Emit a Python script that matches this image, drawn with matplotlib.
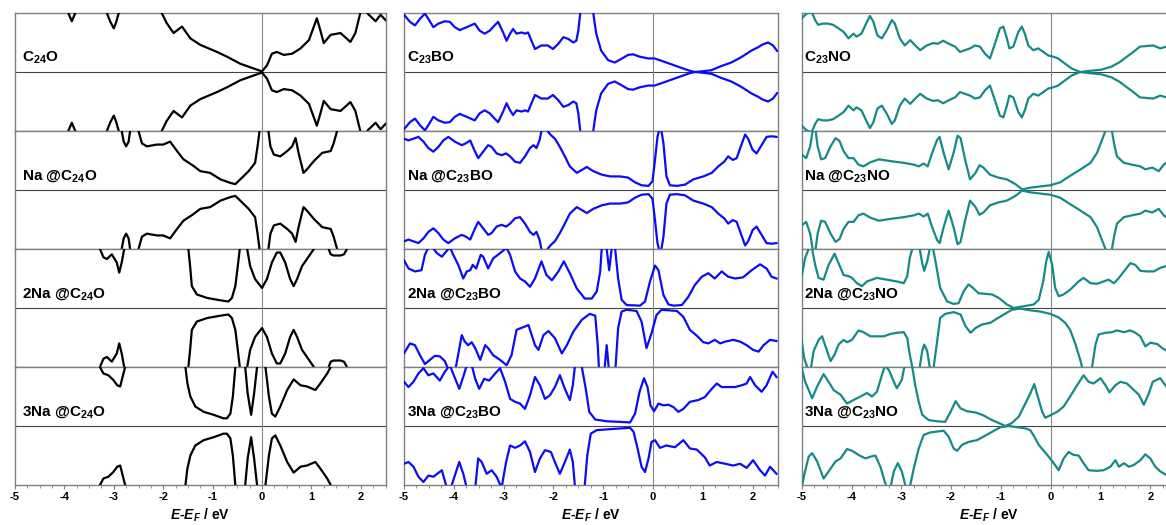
import matplotlib
matplotlib.use('Agg')
import matplotlib.pyplot as plt

# Spin-resolved DOS (units: fraction of panel half-height)
# Panels where both spin channels look the same use one list for both.

# ---------- column 1 : C24O ----------
e_c24o = [-5.0, -4.0, -3.92, -3.85, -3.78, -3.7, -3.4, -3.14, -3.07, -3.0, -2.95, -2.9,
          -2.5, -2.03, -1.93, -1.79, -1.62, -1.45, -1.25, -0.91, -0.71, -0.44, -0.17, 0.0,
          0.1, 0.2, 0.3, 0.44, 0.61, 0.78, 0.95, 1.05, 1.11, 1.18, 1.25, 1.39, 1.59, 1.79,
          1.89, 1.99, 2.05, 2.15, 2.3, 2.4, 2.5]
d_c24o = [1.5, 1.2, 1.0, 0.86, 1.0, 1.2, 1.5, 1.0, 0.85, 0.74, 0.85, 1.0,
          1.5, 1.0, 0.83, 0.66, 0.77, 0.57, 0.46, 0.34, 0.26, 0.14, 0.06, 0.01,
          0.11, 0.31, 0.34, 0.29, 0.31, 0.40, 0.54, 0.77, 0.91, 0.71, 0.49, 0.63, 0.66, 0.51,
          0.66, 1.0, 1.1, 0.98, 0.86, 0.97, 0.88]

e_na_c24o = [-5.0, -2.9, -2.84, -2.8, -2.75, -2.7, -2.67, -2.58, -2.5, -2.43, -2.33, -2.13,
             -2.0, -1.86, -1.72, -1.59, -1.39, -1.25, -1.05, -0.84, -0.64, -0.54, -0.44,
             -0.27, -0.14, -0.09, -0.05, 0.04, 0.13, 0.17, 0.24, 0.37, 0.51, 0.61, 0.68,
             0.74, 0.84, 0.91, 1.05, 1.22, 1.39, 1.45, 1.52, 1.6, 2.5]
d_na_c24o = [1.5, 1.2, 1.0, 0.82, 0.74, 0.82, 1.0, 1.3, 1.0, 0.79, 0.74, 0.77,
             0.77, 0.82, 0.66, 0.52, 0.41, 0.32, 0.29, 0.18, 0.12, 0.10, 0.18,
             0.32, 0.46, 0.74, 1.0, 1.5, 1.0, 0.74, 0.60, 0.57, 0.66, 0.74, 0.88,
             0.63, 0.29, 0.35, 0.49, 0.63, 0.66, 0.79, 1.0, 1.5, 1.5]

e_2na_c24o = [-5.0, -3.35, -3.28, -3.21, -3.14, -3.04, -2.94, -2.89, -2.84, -2.79, -2.7,
              -1.6, -1.49, -1.45, -1.42, -1.32, -1.11, -0.84, -0.68, -0.61, -0.54, -0.49,
              -0.45, -0.38, -0.3, -0.24, -0.14, 0.0, 0.1, 0.2, 0.3, 0.37, 0.47, 0.57, 0.64,
              0.71, 0.81, 0.91, 1.05, 1.2, 1.35, 1.39, 1.45, 1.59, 1.66, 1.72, 1.8, 2.5]
d_2na_c24o = [1.5, 1.2, 1.0, 0.86, 0.83, 0.91, 0.77, 0.60, 0.77, 1.0, 1.4,
              1.4, 1.0, 0.66, 0.37, 0.23, 0.17, 0.13, 0.11, 0.17, 0.37, 0.71,
              1.0, 1.3, 1.0, 0.71, 0.49, 0.34, 0.49, 0.77, 0.94, 0.94, 0.77, 0.49, 0.37,
              0.49, 0.71, 0.83, 1.0, 1.4, 1.0, 0.91, 0.89, 0.89, 0.91, 1.0, 1.4, 1.5]

e_3na_c24o = [-5.0, -3.35, -3.28, -3.21, -3.11, -3.01, -2.93, -2.87, -2.82, -2.77, -2.7,
              -1.65, -1.55, -1.51, -1.45, -1.35, -1.18, -0.98, -0.78, -0.71, -0.64, -0.59,
              -0.54, -0.45, -0.34, -0.29, -0.22, -0.16, -0.1, -0.02, 0.07, 0.14, 0.2, 0.27,
              0.37, 0.51, 0.64, 0.78, 0.91, 1.08, 1.18, 1.32, 1.39, 1.5, 2.5]
d_3na_c24o = [1.5, 1.2, 1.0, 0.89, 0.86, 0.78, 0.69, 0.67, 0.84, 1.0, 1.4,
              1.4, 1.0, 0.72, 0.50, 0.33, 0.24, 0.19, 0.13, 0.13, 0.21, 0.50,
              1.0, 1.4, 1.0, 0.55, 0.19, 0.55, 1.0, 1.4, 1.0, 0.50, 0.21, 0.16,
              0.33, 0.61, 0.79, 0.69, 0.67, 0.61, 0.72, 0.89, 1.0, 1.4, 1.5]

# ---------- column 2 : C23BO ----------
e_c23bo = [-5.0, -4.88, -4.78, -4.68, -4.58, -4.51, -4.41, -4.31, -4.18, -4.08, -3.98, -3.88,
           -3.74, -3.58, -3.48, -3.38, -3.28, -3.18, -3.11, -3.01, -2.94, -2.87, -2.81, -2.74,
           -2.64, -2.57, -2.51, -2.37, -2.24, -2.11, -2.01, -1.91, -1.8, -1.7, -1.6, -1.54,
           -1.5, -1.46, -1.33, -1.2, -1.14, -1.04, -0.9, -0.77, -0.64, -0.5, -0.4, -0.27,
           -0.1, 0.03, 0.17, 0.37, 0.57, 0.74, 0.84, 0.97, 1.17, 1.37, 1.57, 1.77, 1.97,
           2.11, 2.21, 2.31, 2.41, 2.49]
d_c23bo = [0.97, 0.85, 0.79, 0.90, 0.99, 0.90, 0.76, 0.82, 0.86, 0.85, 0.76, 0.71,
           0.76, 0.82, 0.70, 0.65, 0.70, 0.79, 0.85, 0.67, 0.53, 0.65, 0.73, 0.65,
           0.67, 0.65, 0.67, 0.39, 0.45, 0.45, 0.39, 0.47, 0.59, 0.56, 0.50, 0.53,
           0.70, 1.0, 1.6, 1.0, 0.65, 0.36, 0.20, 0.16, 0.22, 0.29, 0.30, 0.26,
           0.23, 0.23, 0.19, 0.13, 0.07, 0.02, 0.0, 0.01, 0.03, 0.10, 0.16, 0.25, 0.36,
           0.42, 0.47, 0.50, 0.45, 0.36]

e_na_c23bo = [-5.0, -4.91, -4.81, -4.71, -4.61, -4.51, -4.41, -4.31, -4.21, -4.11, -3.98,
              -3.84, -3.76, -3.67, -3.59, -3.51, -3.41, -3.31, -3.24, -3.14, -3.04, -2.95,
              -2.87, -2.77, -2.67, -2.57, -2.47, -2.4, -2.34, -2.28, -2.24, -2.18, -2.12,
              -2.05, -1.97, -1.87, -1.77, -1.67, -1.53, -1.43, -1.33, -1.2, -1.03, -0.86,
              -0.66, -0.5, -0.36, -0.23, -0.09, -0.01, 0.04, 0.09, 0.12, 0.145, 0.17, 0.21,
              0.27, 0.34, 0.48, 0.64, 0.81, 1.01, 1.18, 1.31, 1.43, 1.51, 1.6, 1.68, 1.76,
              1.85, 1.91, 2.0, 2.08, 2.18, 2.28, 2.38, 2.48]
d_na_c23bo = [0.87, 0.84, 0.87, 0.90, 0.82, 0.71, 0.65, 0.73, 0.84, 0.90, 0.82,
              0.76, 0.79, 0.84, 0.68, 0.54, 0.65, 0.76, 0.73, 0.62, 0.59, 0.62,
              0.57, 0.48, 0.46, 0.57, 0.71, 0.76, 0.71, 0.84, 1.0, 1.3, 1.0,
              0.93, 0.87, 0.73, 0.57, 0.40, 0.29, 0.34, 0.39, 0.32, 0.26, 0.23,
              0.23, 0.21, 0.13, 0.08, 0.07, 0.15, 0.51, 0.90, 1.0, 1.4, 1.0, 0.79,
              0.23, 0.08, 0.07, 0.09, 0.18, 0.23, 0.29, 0.40, 0.48, 0.57, 0.51, 0.54, 0.73,
              0.94, 0.87, 0.68, 0.62, 0.76, 0.90, 0.91, 0.90]

e_2na_c23bo_up = [-5.0, -4.91, -4.78, -4.65, -4.58, -4.5, -4.42, -4.34, -4.24, -4.18, -4.08,
                  -4.01, -3.91, -3.81, -3.74, -3.67, -3.62, -3.55, -3.46, -3.41, -3.31, -3.21,
                  -3.07, -2.94, -2.87, -2.77, -2.67, -2.57, -2.47, -2.37, -2.24, -2.14, -2.03,
                  -1.9, -1.79, -1.67, -1.53, -1.37, -1.23, -1.13, -1.06, -1.03, -0.98, -0.93,
                  -0.88, -0.83, -0.8, -0.76, -0.7, -0.63, -0.53, -0.26, -0.16, -0.06, 0.04,
                  0.11, 0.21, 0.31, 0.41, 0.58, 0.71, 0.84, 0.98, 1.11, 1.24, 1.38, 1.51, 1.65,
                  1.81, 1.98, 2.15, 2.28, 2.38, 2.48]
d_2na_c23bo_up = [0.81, 0.67, 0.62, 0.64, 0.90, 1.05, 1.02, 0.93, 0.87, 0.93, 1.03,
                  0.90, 0.73, 0.50, 0.62, 0.64, 0.73, 0.67, 0.90, 0.87, 0.67, 0.84,
                  0.93, 1.02, 0.90, 0.62, 0.50, 0.45, 0.36, 0.50, 0.79, 0.56, 0.47,
                  0.62, 0.79, 0.59, 0.33, 0.16, 0.16, 0.28, 0.62, 1.0, 1.4, 1.0,
                  0.64, 1.0, 1.3, 1.0, 0.50, 0.14, 0.05, 0.04, 0.11, 0.45, 0.72,
                  0.64, 0.22, 0.06, 0.04, 0.05, 0.19, 0.39, 0.53, 0.59, 0.50, 0.62, 0.53, 0.50,
                  0.52, 0.64, 0.74, 0.67, 0.53, 0.50]
e_2na_c23bo_dn = [-5.0, -4.88, -4.78, -4.68, -4.58, -4.48, -4.38, -4.28, -4.18, -4.08, -3.98,
                  -3.84, -3.78, -3.71, -3.64, -3.57, -3.47, -3.37, -3.31, -3.21, -3.07, -2.94,
                  -2.84, -2.74, -2.5, -2.37, -2.3, -2.2, -2.1, -1.97, -1.83, -1.73, -1.6,
                  -1.43, -1.27, -1.16, -1.11, -1.08, -0.98, -0.93, -0.88, -0.76, -0.7, -0.63,
                  -0.53, -0.33, -0.23, -0.13, -0.03, 0.07, 0.17, 0.48, 0.61, 0.74, 0.88, 1.01,
                  1.11, 1.24, 1.35, 1.45, 1.61, 1.75, 1.88, 2.01, 2.12, 2.22, 2.35, 2.48]
d_2na_c23bo_dn = [0.77, 0.60, 0.63, 0.80, 0.95, 0.88, 0.81, 0.82, 0.90, 1.1, 1.1,
                  0.46, 0.57, 0.63, 0.58, 0.68, 0.88, 0.63, 0.68, 0.80, 0.88, 0.97,
                  0.80, 0.37, 0.29, 0.63, 0.71, 0.46, 0.39, 0.51, 0.77, 0.63, 0.40,
                  0.20, 0.10, 0.13, 0.63, 1.1, 1.1, 0.63, 1.1, 1.1, 0.34, 0.06,
                  0.03, 0.05, 0.23, 0.68, 0.43, 0.12, 0.03, 0.05, 0.15, 0.37, 0.47, 0.58,
                  0.60, 0.54, 0.60, 0.57, 0.54, 0.57, 0.63, 0.71, 0.74, 0.63, 0.54, 0.56]

e_3na_c23bo_up = [-5.0, -4.91, -4.81, -4.71, -4.61, -4.51, -4.41, -4.28, -4.18, -4.08, -4.0,
                  -3.89, -3.8, -3.74, -3.64, -3.57, -3.49, -3.39, -3.29, -3.17, -3.07, -2.97,
                  -2.87, -2.77, -2.67, -2.57, -2.47, -2.37, -2.27, -2.17, -2.07, -1.97, -1.87,
                  -1.77, -1.67, -1.61, -1.57, -1.5, -1.43, -1.35, -1.28, -1.16, -0.93, -0.66,
                  -0.46, -0.36, -0.27, -0.18, -0.11, -0.05, 0.02, 0.11, 0.21, 0.31, 0.41, 0.51,
                  0.61, 0.74, 0.91, 1.04, 1.18, 1.28, 1.38, 1.51, 1.65, 1.78, 1.88, 1.95, 2.05,
                  2.18, 2.28, 2.4, 2.48]
d_3na_c23bo_up = [0.75, 0.66, 0.75, 0.89, 0.98, 0.86, 0.89, 0.77, 0.92, 1.03, 0.86,
                  0.63, 0.86, 1.03, 1.03, 0.80, 0.63, 0.80, 0.77, 0.89, 0.98, 0.75,
                  0.46, 0.41, 0.38, 0.29, 0.52, 0.83, 0.69, 0.46, 0.52, 0.66, 0.86,
                  0.63, 0.44, 0.69, 1.0, 1.5, 1.0, 0.63, 0.24, 0.11, 0.08, 0.07,
                  0.06, 0.21, 0.58, 0.81, 0.66, 0.35, 0.25, 0.38, 0.35, 0.36, 0.32, 0.24,
                  0.29, 0.41, 0.44, 0.49, 0.63, 0.72, 0.66, 0.66, 0.66, 0.69, 0.72, 0.83, 0.69,
                  0.58, 0.69, 0.92, 0.83]
e_3na_c23bo_dn = [-5.0, -4.91, -4.81, -4.71, -4.61, -4.51, -4.41, -4.24, -4.14, -4.06, -3.98,
                  -3.89, -3.81, -3.74, -3.57, -3.51, -3.44, -3.34, -3.24, -3.14, -3.04, -2.95,
                  -2.87, -2.77, -2.67, -2.57, -2.47, -2.37, -2.27, -2.17, -2.05, -1.97, -1.87,
                  -1.77, -1.67, -1.61, -1.57, -1.47, -1.37, -1.32, -1.25, -1.13, -0.8, -0.46,
                  -0.39, -0.31, -0.23, -0.16, -0.09, -0.03, 0.04, 0.14, 0.27, 0.44, 0.61, 0.74,
                  0.88, 1.04, 1.14, 1.28, 1.45, 1.61, 1.75, 1.88, 2.01, 2.15, 2.25, 2.35, 2.48]
d_3na_c23bo_dn = [0.64, 0.61, 0.69, 0.86, 0.95, 0.84, 0.86, 0.75, 1.05, 1.05, 0.84,
                  0.61, 0.81, 1.05, 1.05, 0.55, 0.61, 0.81, 0.75, 0.86, 1.05, 0.61,
                  0.33, 0.37, 0.33, 0.26, 0.44, 0.78, 0.55, 0.41, 0.44, 0.61, 0.81,
                  0.61, 0.40, 0.61, 1.0, 1.5, 1.0, 0.50, 0.13, 0.07, 0.05, 0.03,
                  0.10, 0.38, 0.69, 0.78, 0.55, 0.27, 0.24, 0.37, 0.33, 0.36, 0.24, 0.38,
                  0.40, 0.53, 0.67, 0.61, 0.64, 0.67, 0.64, 0.71, 0.58, 0.75, 0.84, 0.69, 0.81]

# ---------- column 3 : C23NO ----------
e_c23no = [-5.0, -4.9, -4.8, -4.73, -4.67, -4.57, -4.47, -4.37, -4.26, -4.16, -4.06, -3.96,
           -3.9, -3.8, -3.69, -3.63, -3.56, -3.48, -3.39, -3.29, -3.19, -3.13, -3.03, -2.93,
           -2.82, -2.72, -2.62, -2.49, -2.36, -2.26, -2.16, -2.05, -1.92, -1.82, -1.72, -1.62,
           -1.52, -1.42, -1.32, -1.22, -1.12, -1.02, -0.95, -0.88, -0.83, -0.75, -0.65, -0.58,
           -0.52, -0.45, -0.35, -0.25, -0.15, -0.05, 0.05, 0.15, 0.29, 0.42, 0.59, 0.79,
           1.02, 1.22, 1.39, 1.53, 1.66, 1.79, 1.93, 2.06, 2.2, 2.32]
d_c23no = [0.91, 0.99, 1.02, 0.88, 0.80, 0.82, 0.82, 0.80, 0.74, 0.68, 0.57, 0.65,
           0.60, 0.65, 0.85, 0.95, 0.85, 0.62, 0.57, 0.71, 0.88, 0.82, 0.57, 0.45,
           0.54, 0.45, 0.37, 0.45, 0.49, 0.48, 0.53, 0.48, 0.43, 0.34, 0.37, 0.40,
           0.45, 0.43, 0.31, 0.23, 0.48, 0.74, 0.77, 0.57, 0.40, 0.43, 0.68, 0.77,
           0.65, 0.45, 0.37, 0.40, 0.34, 0.28, 0.26, 0.23, 0.14, 0.06, 0.0, 0.02,
           0.04, 0.09, 0.17, 0.26, 0.34, 0.43, 0.44, 0.45, 0.40, 0.43]

e_na_c23no = [-5.0, -4.91, -4.83, -4.77, -4.72, -4.68, -4.61, -4.53, -4.42, -4.32, -4.24,
              -4.16, -4.06, -3.96, -3.86, -3.76, -3.62, -3.45, -3.22, -2.95, -2.75, -2.65,
              -2.55, -2.47, -2.38, -2.28, -2.23, -2.15, -2.05, -1.95, -1.87, -1.81, -1.72,
              -1.62, -1.51, -1.43, -1.35, -1.22, -1.05, -0.88, -0.71, -0.57, -0.41, -0.21,
              -0.01, 0.19, 0.39, 0.6, 0.8, 0.93, 1.03, 1.1, 1.16, 1.23, 1.27, 1.33, 1.47,
              1.63, 1.8, 1.9, 2.04, 2.17, 2.27, 2.32]
d_na_c23no = [0.60, 0.54, 0.74, 1.05, 1.0, 0.74, 0.52, 0.54, 0.74, 0.88, 0.83,
              0.66, 0.54, 0.54, 0.43, 0.40, 0.47, 0.52, 0.49, 0.46, 0.43, 0.40,
              0.45, 0.40, 0.63, 0.85, 0.90, 0.63, 0.35, 0.63, 0.92, 0.88, 0.52,
              0.18, 0.29, 0.42, 0.38, 0.26, 0.21, 0.18, 0.10, 0.01, 0.04, 0.06,
              0.08, 0.13, 0.24, 0.35, 0.46, 0.63, 0.85, 1.0, 1.5, 1.0, 0.80, 0.57, 0.46,
              0.43, 0.40, 0.35, 0.38, 0.32, 0.43, 0.46]

e_2na_c23no_up = [-5.0, -4.93, -4.86, -4.82, -4.79, -4.73, -4.66, -4.56, -4.46, -4.34, -4.26,
                  -4.16, -4.06, -3.99, -3.89, -3.79, -3.69, -3.49, -3.29, -3.09, -2.95, -2.88,
                  -2.83, -2.78, -2.7, -2.63, -2.58, -2.54, -2.48, -2.43, -2.4, -2.36, -2.3,
                  -2.22, -2.08, -1.95, -1.85, -1.75, -1.65, -1.56, -1.45, -1.31, -1.18, -1.04,
                  -0.88, -0.74, -0.54, -0.34, -0.24, -0.15, -0.09, -0.04, 0.03, 0.09, 0.16,
                  0.26, 0.39, 0.56, 0.66, 0.8, 0.93, 1.03, 1.16, 1.27, 1.37, 1.47, 1.6, 1.7,
                  1.8, 1.93, 2.07, 2.2, 2.32]
d_2na_c23no_up = [0.54, 0.85, 1.0, 1.1, 1.0, 0.73, 0.51, 0.48, 0.73, 0.92, 0.76,
                  0.56, 0.54, 0.51, 0.42, 0.37, 0.45, 0.51, 0.48, 0.45, 0.42, 0.54,
                  0.85, 1.0, 1.3, 1.0, 0.76, 0.63, 0.79, 1.0, 1.2, 1.0, 0.73,
                  0.34, 0.11, 0.07, 0.08, 0.28, 0.40, 0.34, 0.25, 0.24, 0.23, 0.17,
                  0.06, 0.0, 0.03, 0.06, 0.14, 0.45, 0.79, 0.95, 0.73, 0.34, 0.20,
                  0.23, 0.31, 0.45, 0.51, 0.42, 0.41, 0.44, 0.48, 0.42, 0.51, 0.62, 0.76, 0.73,
                  0.63, 0.62, 0.62, 0.68, 0.71]
e_2na_c23no_dn = [-5.0, -4.95, -4.89, -4.83, -4.76, -4.66, -4.59, -4.49, -4.42, -4.34, -4.26,
                  -4.16, -4.09, -3.99, -3.86, -3.76, -3.62, -3.49, -3.35, -3.22, -3.09, -2.95,
                  -2.88, -2.83, -2.78, -2.7, -2.63, -2.58, -2.54, -2.48, -2.43, -2.39, -2.35,
                  -2.28, -2.22, -2.12, -1.95, -1.81, -1.71, -1.61, -1.51, -1.38, -1.21, -1.08,
                  -0.94, -0.78, -0.61, -0.41, -0.21, -0.01, 0.16, 0.29, 0.39, 0.5, 0.6, 0.63,
                  0.73, 0.83, 0.9, 0.96, 1.1, 1.23, 1.33, 1.47, 1.6, 1.7, 1.8, 1.9, 2.0, 2.14,
                  2.24, 2.32]
d_2na_c23no_dn = [0.56, 0.85, 1.0, 1.1, 0.73, 0.54, 0.48, 0.73, 0.90, 0.79, 0.62,
                  0.54, 0.58, 0.54, 0.38, 0.41, 0.48, 0.48, 0.48, 0.44, 0.42, 0.41,
                  0.51, 0.79, 1.0, 1.3, 1.0, 0.73, 0.62, 0.73, 1.0, 1.2, 1.0,
                  0.56, 0.17, 0.10, 0.07, 0.11, 0.31, 0.42, 0.34, 0.28, 0.25, 0.18,
                  0.11, 0.03, 0.01, 0.04, 0.06, 0.10, 0.16, 0.25, 0.37, 0.62, 0.90, 1.0,
                  1.4, 1.0, 0.62, 0.45, 0.42, 0.41, 0.38, 0.41, 0.38, 0.42, 0.48, 0.65, 0.59, 0.61,
                  0.68, 0.72]

e_3na_c23no_up = [-5.0, -4.93, -4.79, -4.69, -4.56, -4.46, -4.36, -4.22, -4.09, -3.96, -3.82,
                  -3.69, -3.59, -3.49, -3.39, -3.33, -3.25, -3.15, -3.09, -2.99, -2.94, -2.86,
                  -2.78, -2.72, -2.65, -2.58, -2.45, -2.28, -2.12, -2.01, -1.91, -1.81, -1.68,
                  -1.51, -1.35, -1.18, -1.04, -0.91, -0.78, -0.64, -0.51, -0.41, -0.33, -0.26,
                  -0.17, -0.11, -0.01, 0.13, 0.26, 0.39, 0.53, 0.66, 0.76, 0.86, 1.0, 1.1, 1.18,
                  1.3, 1.4, 1.53, 1.67, 1.77, 1.87, 1.97, 2.05, 2.2, 2.32]
d_3na_c23no_up = [0.98, 0.75, 0.47, 0.67, 0.88, 0.75, 0.61, 0.53, 0.38, 0.44, 0.50,
                  0.56, 0.50, 0.58, 0.86, 1.02, 0.95, 0.75, 0.64, 0.78, 1.0, 1.3,
                  1.0, 0.69, 0.41, 0.19, 0.10, 0.08, 0.07, 0.24, 0.42, 0.30, 0.25,
                  0.23, 0.18, 0.10, 0.05, 0.0, 0.05, 0.16, 0.38, 0.55, 0.71, 0.50,
                  0.24, 0.14, 0.18, 0.24, 0.33, 0.50, 0.69, 0.86, 0.75, 0.72, 0.81, 0.69, 0.57,
                  0.69, 0.75, 0.72, 0.61, 0.53, 0.36, 0.55, 0.75, 0.81, 0.67]
e_3na_c23no_dn = [-5.0, -4.95, -4.86, -4.79, -4.69, -4.56, -4.46, -4.32, -4.22, -4.09, -3.99,
                  -3.86, -3.72, -3.62, -3.52, -3.42, -3.34, -3.29, -3.22, -3.15, -3.07, -2.99,
                  -2.92, -2.86, -2.82, -2.75, -2.65, -2.55, -2.42, -2.15, -2.05, -1.95, -1.88,
                  -1.78, -1.65, -1.48, -1.35, -1.18, -1.01, -0.84, -0.68, -0.51, -0.41, -0.33,
                  -0.24, -0.14, -0.04, 0.06, 0.16, 0.26, 0.36, 0.46, 0.56, 0.66, 0.76, 0.93,
                  1.06, 1.2, 1.3, 1.37, 1.47, 1.57, 1.67, 1.8, 1.9, 2.0, 2.1, 2.2, 2.32]
d_3na_c23no_dn = [1.05, 0.83, 0.52, 0.46, 0.60, 0.89, 0.77, 0.60, 0.55, 0.39, 0.42,
                  0.49, 0.55, 0.52, 0.50, 0.69, 0.92, 1.05, 1.05, 0.77, 0.63, 0.77,
                  1.0, 1.3, 1.0, 0.72, 0.38, 0.15, 0.11, 0.08, 0.18, 0.38, 0.42,
                  0.32, 0.27, 0.24, 0.18, 0.10, 0.02, 0.0, 0.02, 0.04, 0.07, 0.18,
                  0.32, 0.42, 0.52, 0.63, 0.75, 0.55, 0.44, 0.49, 0.50, 0.63, 0.75, 0.76,
                  0.75, 0.69, 0.58, 0.69, 0.63, 0.69, 0.66, 0.58, 0.48, 0.55, 0.69, 0.77, 0.83]

labels = [
    ['C$_{24}$O', 'Na @C$_{24}$O', '2Na @C$_{24}$O', '3Na @C$_{24}$O'],
    ['C$_{23}$BO', 'Na @C$_{23}$BO', '2Na @C$_{23}$BO', '3Na @C$_{23}$BO'],
    ['C$_{23}$NO', 'Na @C$_{23}$NO', '2Na @C$_{23}$NO', '3Na @C$_{23}$NO'],
]
# (up energies, up dos, down energies, down dos)
panels = [
    [(e_c24o, d_c24o, e_c24o, d_c24o),
     (e_na_c24o, d_na_c24o, e_na_c24o, d_na_c24o),
     (e_2na_c24o, d_2na_c24o, e_2na_c24o, d_2na_c24o),
     (e_3na_c24o, d_3na_c24o, e_3na_c24o, d_3na_c24o)],
    [(e_c23bo, d_c23bo, e_c23bo, d_c23bo),
     (e_na_c23bo, d_na_c23bo, e_na_c23bo, d_na_c23bo),
     (e_2na_c23bo_up, d_2na_c23bo_up, e_2na_c23bo_dn, d_2na_c23bo_dn),
     (e_3na_c23bo_up, d_3na_c23bo_up, e_3na_c23bo_dn, d_3na_c23bo_dn)],
    [(e_c23no, d_c23no, e_c23no, d_c23no),
     (e_na_c23no, d_na_c23no, e_na_c23no, d_na_c23no),
     (e_2na_c23no_up, d_2na_c23no_up, e_2na_c23no_dn, d_2na_c23no_dn),
     (e_3na_c23no_up, d_3na_c23no_up, e_3na_c23no_dn, d_3na_c23no_dn)],
]
colors = ['#000000', '#0c0cf5', '#168a87']
xticks = [-5, -4, -3, -2, -1, 0, 1, 2]

plt.rcParams['font.family'] = 'Liberation Sans'
plt.rcParams['font.weight'] = 'bold'
plt.rcParams['axes.unicode_minus'] = False
plt.rcParams['mathtext.fontset'] = 'custom'
plt.rcParams['mathtext.rm'] = 'Liberation Sans:bold'
plt.rcParams['mathtext.it'] = 'Liberation Sans:bold:italic'
plt.rcParams['mathtext.bf'] = 'Liberation Sans:bold'

W, H = 1166, 525
fig = plt.figure(figsize=(W / 100, H / 100), dpi=100)

col_left = [15, 404, 801.7]      # px
col_width = [370.5, 373.5, 373.5]
lab_dx = [0.019, 0.008, 0.007]
top, ph = 13, 118

for c in range(3):
    for p in range(4):
        y0 = 1 - (top + (p + 1) * ph) / H
        ax = fig.add_axes([col_left[c] / W, y0, col_width[c] / W, ph / H])
        eu, du, ed, dd = panels[c][p]
        ax.plot(eu, du, color=colors[c], lw=1.6, zorder=3, solid_joinstyle='round')
        ax.plot(ed, [-v for v in dd], color=colors[c], lw=1.6, zorder=3,
                solid_joinstyle='round')
        ax.axhline(0, color='#444444', lw=0.8, zorder=1)
        ax.axvline(0, color='#888888', lw=0.8, zorder=1)
        ax.set_xlim(-5, 2.5)
        ax.set_ylim(-1, 1)
        ax.set_yticks([])
        for s in ax.spines.values():
            s.set_color('#808080')
            s.set_linewidth(1.0)
        ax.text(lab_dx[c], 0.62, labels[c][p], transform=ax.transAxes,
                fontsize=11, fontweight='bold', va='center', ha='left')
        if p < 3:
            ax.set_xticks([])
        else:
            ax.set_xticks(xticks, labels=[str(t) for t in xticks])
            ax.set_xticks([x / 4 for x in range(-20, 11)], minor=True)
            ax.tick_params(axis='x', which='major', direction='out', length=3,
                           width=0.8, color='#808080', labelsize=8, pad=2)
            ax.tick_params(axis='x', which='minor', direction='out', length=2,
                           width=0.6, color='#808080')
            for t in ax.get_xticklabels():
                t.set_fontweight('bold')
            ax.set_xlabel('$E$-$E_F$ / eV', fontsize=10, fontweight='bold', labelpad=3)

fig.savefig('out.png', dpi=100)
